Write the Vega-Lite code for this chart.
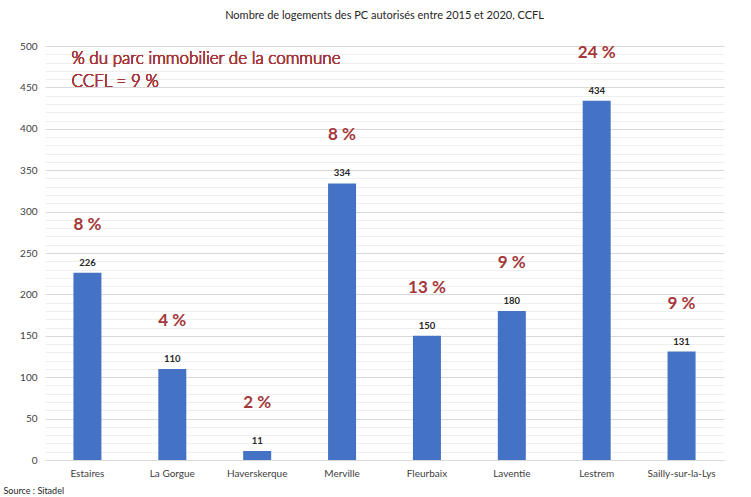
{
  "$schema": "https://vega.github.io/schema/vega-lite/v6.json",
  "width": 679,
  "height": 414,
  "autosize": {"type": "none"},
  "padding": {"left": 45, "top": 46, "right": 27, "bottom": 37},
  "background": "white",
  "config": {
    "view": {"stroke": null},
    "font": "Lato"
  },
  "title": {
    "text": "Nombre de logements des PC autorisés entre 2015 et 2020, CCFL",
    "frame": "group",
    "anchor": "middle",
    "offset": 20,
    "fontSize": 11,
    "fontWeight": "normal",
    "color": "#262626",
    "font": "Lato"
  },
  "data": {
    "values": [
      {"commune": "Estaires", "logements": 226, "pct": "8 %"},
      {"commune": "La Gorgue", "logements": 110, "pct": "4 %"},
      {"commune": "Haverskerque", "logements": 11, "pct": "2 %"},
      {"commune": "Merville", "logements": 334, "pct": "8 %"},
      {"commune": "Fleurbaix", "logements": 150, "pct": "13 %"},
      {"commune": "Laventie", "logements": 180, "pct": "9 %"},
      {"commune": "Lestrem", "logements": 434, "pct": "24 %"},
      {"commune": "Sailly-sur-la-Lys", "logements": 131, "pct": "9 %"}
    ]
  },
  "encoding": {
    "x": {
      "field": "commune",
      "type": "nominal",
      "sort": null,
      "scale": {"paddingInner": 0.67, "paddingOuter": 0.335},
      "axis": {
        "labelAngle": 0,
        "labelFontSize": 10,
        "labelColor": "#404040",
        "labelPadding": 8,
        "ticks": false,
        "domainColor": "#d9d9d9",
        "title": "Source : Sitadel",
        "titleAnchor": "start",
        "titleAlign": "left",
        "titleX": -42,
        "titleY": 30,
        "titleBaseline": "middle",
        "titleFontSize": 9,
        "titleFontWeight": "normal",
        "titleColor": "#262626"
      }
    },
    "y": {
      "field": "logements",
      "type": "quantitative",
      "scale": {"domain": [0, 500], "nice": false},
      "axis": {
        "values": [0,10,20,30,40,50,60,70,80,90,100,110,120,130,140,150,160,170,180,190,200,210,220,230,240,250,260,270,280,290,300,310,320,330,340,350,360,370,380,390,400,410,420,430,440,450,460,470,480,490,500],
        "labelExpr": "datum.value % 50 === 0 ? datum.label : ''",
        "labelFontSize": 10,
        "labelColor": "#404040",
        "labelPadding": 8,
        "ticks": false,
        "domain": false,
        "title": null,
        "gridColor": {"expr": "datum.value % 50 === 0 ? '#d9d9d9' : '#efefef'"}
      }
    }
  },
  "layer": [
    {"mark": {"type": "bar", "color": "#4472C4"}},
    {
      "mark": {"type": "text", "baseline": "bottom", "dy": -5, "fontSize": 9.5, "fontWeight": "bold", "color": "#262626"},
      "encoding": {"text": {"field": "logements", "type": "quantitative"}}
    },
    {
      "mark": {"type": "text", "baseline": "middle", "dy": -48, "fontSize": 17, "fontWeight": "bold", "color": "#A5373A"},
      "encoding": {"text": {"field": "pct", "type": "nominal"}}
    },
    {
      "mark": {"type": "text", "align": "left", "baseline": "top", "dx": -16, "font": "Lato", "fontSize": 17, "fontWeight": 300, "lineHeight": 23, "color": "#A5373A", "lineBreak": "\n"},
      "encoding": {
        "x": {"datum": "Estaires"},
        "y": {"datum": 494},
        "text": {"value": "% du parc immobilier de la commune\nCCFL = 9 %"}
      }
    }
  ]
}
